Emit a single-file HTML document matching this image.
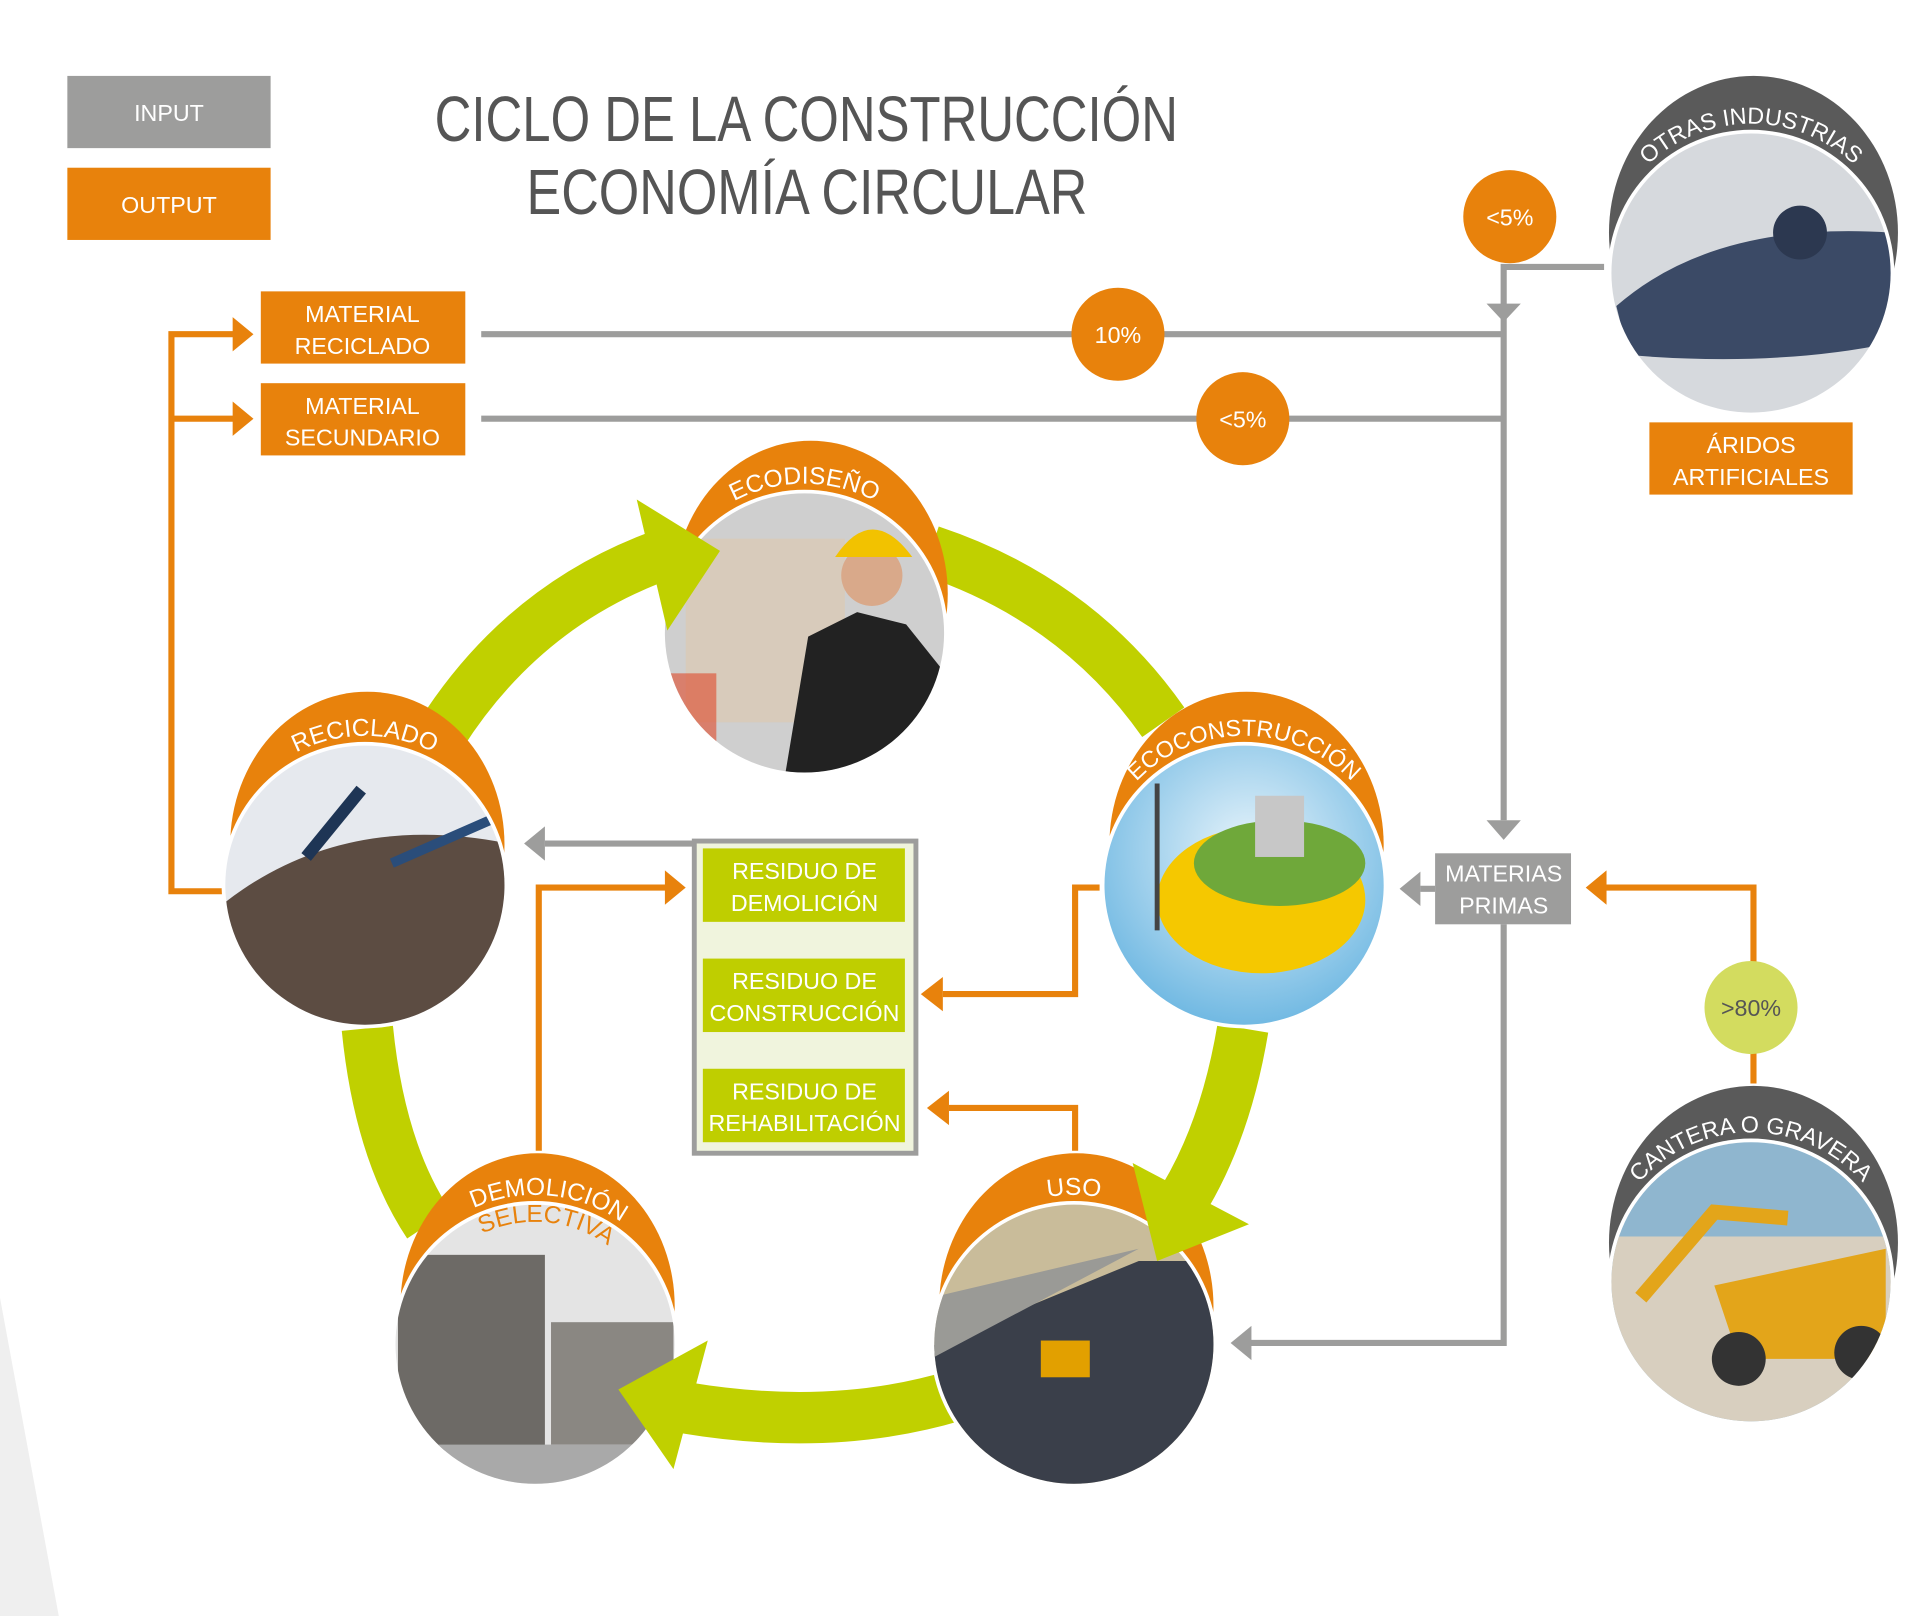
<!DOCTYPE html>
<html><head><meta charset="utf-8"><style>
html,body{margin:0;padding:0;background:#fff;}
svg{display:block;}
text{font-family:"Liberation Sans Narrow","Liberation Sans",sans-serif;}
</style></head><body>
<svg width="1920" height="1616" viewBox="0 0 1568 1320" preserveAspectRatio="none" xmlns="http://www.w3.org/2000/svg">
<defs>
<clipPath id="c1"><circle cx="657" cy="517" r="114"/></clipPath>
<clipPath id="c2"><circle cx="298" cy="723" r="114"/></clipPath>
<clipPath id="c3"><circle cx="1016" cy="723" r="114"/></clipPath>
<clipPath id="c4"><circle cx="437" cy="1098" r="114"/></clipPath>
<clipPath id="c5"><circle cx="877" cy="1098" r="114"/></clipPath>
<clipPath id="c6"><circle cx="1430" cy="223" r="114"/></clipPath>
<clipPath id="c7"><circle cx="1430" cy="1047" r="114"/></clipPath>
<path id="a1" d="M535,517 A122,122 0 0 1 779,517"/>
<path id="a2" d="M176,723 A122,122 0 0 1 420,723"/>
<path id="a3" d="M894,723 A122,122 0 0 1 1138,723"/>
<path id="a4" d="M315,1098 A122,122 0 0 1 559,1098"/>
<path id="a4b" d="M337,1098 A100,100 0 0 1 537,1098"/>
<path id="a5" d="M755,1098 A122,122 0 0 1 999,1098"/>
<path id="a6" d="M1308,223 A122,122 0 0 1 1552,223"/>
<path id="a7" d="M1308,1047 A122,122 0 0 1 1552,1047"/>
<radialGradient id="gsky" cx="50%" cy="40%" r="60%"><stop offset="0" stop-color="#e8f4fb"/><stop offset="1" stop-color="#6fb8e2"/></radialGradient>
</defs>
<rect width="1568" height="1320" fill="#fff"/>
<polygon points="0,1060 0,1320 48,1320" fill="#efefef"/>

<rect x="55" y="62" width="166" height="59" fill="#9d9d9c"/>
<text x="138" y="99" fill="#fff" font-size="19" text-anchor="middle">INPUT</text>
<rect x="55" y="137" width="166" height="59" fill="#e8820c"/>
<text x="138" y="174" fill="#fff" font-size="19" text-anchor="middle">OUTPUT</text>

<text x="355" y="115" fill="#555" font-size="52" textLength="607" lengthAdjust="spacingAndGlyphs">CICLO DE LA CONSTRUCCIÓN</text>
<text x="430" y="175" fill="#555" font-size="52" textLength="458" lengthAdjust="spacingAndGlyphs">ECONOMÍA CIRCULAR</text>

<g stroke="#9d9d9c" stroke-width="5" fill="none">
<line x1="393" y1="273" x2="1228" y2="273"/>
<line x1="393" y1="342" x2="1228" y2="342"/>
<polyline points="1310,218 1228,218 1228,670"/>
<polyline points="1228,755 1228,1097 1020,1097"/>
<line x1="1172" y1="726" x2="1160" y2="726"/>
<line x1="567" y1="689" x2="445" y2="689"/>
</g>
<g fill="#9d9d9c">
<polygon points="1214,248 1242,248 1228,263"/>
<polygon points="1214,670 1242,670 1228,686"/>
<polygon points="1160,712 1160,740 1143,726"/>
<polygon points="1022,1083 1022,1111 1005,1097"/>
<polygon points="445,675 445,703 428,689"/>
</g>

<g stroke="#e8820c" stroke-width="5" fill="none">
<polyline points="183,728 140,728 140,273 192,273"/>
<line x1="140" y1="342" x2="192" y2="342"/>
<polyline points="440,940 440,725 545,725"/>
<polyline points="898,725 878,725 878,812 770,812"/>
<polyline points="878,940 878,905 775,905"/>
<polyline points="1432,885 1432,725 1310,725"/>
</g>
<g fill="#e8820c">
<polygon points="190,259 190,287 207,273"/>
<polygon points="190,328 190,356 207,342"/>
<polygon points="543,711 543,739 560,725"/>
<polygon points="770,798 770,826 752,812"/>
<polygon points="775,891 775,919 757,905"/>
<polygon points="1312,711 1312,739 1295,725"/>
</g>

<rect x="213" y="238" width="167" height="59" fill="#e8820c"/>
<text x="296" y="263" fill="#fff" font-size="19" text-anchor="middle">MATERIAL</text>
<text x="296" y="289" fill="#fff" font-size="19" text-anchor="middle">RECICLADO</text>
<rect x="213" y="313" width="167" height="59" fill="#e8820c"/>
<text x="296" y="338" fill="#fff" font-size="19" text-anchor="middle">MATERIAL</text>
<text x="296" y="364" fill="#fff" font-size="19" text-anchor="middle">SECUNDARIO</text>

<circle cx="1233" cy="177" r="38" fill="#e8820c"/>
<text x="1233" y="184" fill="#fff" font-size="19" text-anchor="middle">&lt;5%</text>
<circle cx="913" cy="273" r="38" fill="#e8820c"/>
<text x="913" y="280" fill="#fff" font-size="19" text-anchor="middle">10%</text>
<circle cx="1015" cy="342" r="38" fill="#e8820c"/>
<text x="1015" y="349" fill="#fff" font-size="19" text-anchor="middle">&lt;5%</text>
<circle cx="1430" cy="823" r="38" fill="#d3dc5f"/>
<text x="1430" y="830" fill="#555" font-size="19" text-anchor="middle">&gt;80%</text>

<rect x="1347" y="345" width="166" height="59" fill="#e8820c"/>
<text x="1430" y="370" fill="#fff" font-size="19" text-anchor="middle">ÁRIDOS</text>
<text x="1430" y="396" fill="#fff" font-size="19" text-anchor="middle">ARTIFICIALES</text>

<rect x="1172" y="697" width="111" height="58" fill="#9d9d9c"/>
<text x="1228" y="720" fill="#fff" font-size="19" text-anchor="middle">MATERIAS</text>
<text x="1228" y="746" fill="#fff" font-size="19" text-anchor="middle">PRIMAS</text>

<rect x="567" y="687" width="181" height="255" fill="#f0f4dd" stroke="#9d9d9c" stroke-width="4"/>
<g fill="#bfce00"><rect x="574" y="693" width="165" height="60"/><rect x="574" y="783" width="165" height="60"/><rect x="574" y="873" width="165" height="60"/></g>
<g fill="#fff" font-size="19" text-anchor="middle">
<text x="657" y="718">RESIDUO DE</text><text x="657" y="744">DEMOLICIÓN</text>
<text x="657" y="808">RESIDUO DE</text><text x="657" y="834">CONSTRUCCIÓN</text>
<text x="657" y="898">RESIDUO DE</text><text x="657" y="924">REHABILITACIÓN</text>
</g>

<g stroke="#c0d000" stroke-width="42" fill="none">
<path d="M360,600 Q430,490 550,450"/>
<path d="M760,450 Q880,490 950,590"/>
<path d="M1015,840 Q1000,930 960,990"/>
<path d="M780,1140 Q680,1170 560,1150"/>
<path d="M300,840 Q310,940 350,1000"/>
</g>

<g>
<ellipse cx="662" cy="485" rx="112" ry="125" fill="#e8820c"/>
<circle cx="657" cy="517" r="117" fill="#fff"/>
<g clip-path="url(#c1)"><rect x="540" y="400" width="240" height="240" fill="#cfcfcf"/>
<rect x="560" y="440" width="130" height="150" fill="#e2c7a8" opacity=".5"/>
<path d="M640,640 L660,520 L700,500 L740,510 L780,560 L780,640 Z" fill="#222"/>
<circle cx="712" cy="470" r="25" fill="#d9a98a"/><path d="M682,455 Q712,410 745,455 Z" fill="#f2c200"/>
<rect x="545" y="550" width="40" height="60" fill="#e04a2a" opacity=".6"/></g>
<text font-size="20" fill="#fff"><textPath href="#a1" startOffset="50%" text-anchor="middle">ECODISEÑO</textPath></text>
</g>
<g>
<ellipse cx="300" cy="690" rx="112" ry="125" fill="#e8820c"/>
<circle cx="298" cy="723" r="117" fill="#fff"/>
<g clip-path="url(#c2)"><rect x="180" y="600" width="240" height="240" fill="#e6e9ee"/>
<path d="M180,740 Q280,660 420,690 L420,840 L180,840 Z" fill="#5c4c42"/>
<line x1="250" y1="700" x2="295" y2="645" stroke="#1e3555" stroke-width="10"/>
<line x1="320" y1="705" x2="400" y2="670" stroke="#2a4d7a" stroke-width="8"/></g>
<text font-size="20" fill="#fff"><textPath href="#a2" startOffset="50%" text-anchor="middle">RECICLADO</textPath></text>
</g>
<g>
<ellipse cx="1018" cy="690" rx="112" ry="125" fill="#e8820c"/>
<circle cx="1016" cy="723" r="117" fill="#fff"/>
<g clip-path="url(#c3)"><rect x="900" y="600" width="240" height="240" fill="url(#gsky)"/>
<ellipse cx="1030" cy="735" rx="85" ry="60" fill="#f5c800"/>
<ellipse cx="1045" cy="705" rx="70" ry="35" fill="#6fa83a"/>
<rect x="1025" y="650" width="40" height="50" fill="#c7c7c7"/>
<line x1="945" y1="640" x2="945" y2="760" stroke="#444" stroke-width="4"/></g>
<text font-size="19" fill="#fff"><textPath href="#a3" startOffset="50%" text-anchor="middle">ECOCONSTRUCCIÓN</textPath></text>
</g>
<g>
<ellipse cx="439" cy="1067" rx="112" ry="125" fill="#e8820c"/>
<circle cx="437" cy="1098" r="117" fill="#fff"/>
<g clip-path="url(#c4)"><rect x="320" y="980" width="240" height="240" fill="#e4e4e4"/>
<rect x="325" y="1025" width="120" height="160" fill="#6d6a66"/>
<rect x="450" y="1080" width="100" height="100" fill="#8a8782"/>
<rect x="320" y="1180" width="240" height="40" fill="#a9a9a9"/></g>
<text font-size="20" fill="#fff"><textPath href="#a4" startOffset="53%" text-anchor="middle">DEMOLICIÓN</textPath></text>
<text font-size="20" fill="#e8820c"><textPath href="#a4b" startOffset="53%" text-anchor="middle">SELECTIVA</textPath></text>
</g>
<g>
<ellipse cx="879" cy="1067" rx="112" ry="125" fill="#e8820c"/>
<circle cx="877" cy="1098" r="117" fill="#fff"/>
<g clip-path="url(#c5)"><rect x="760" y="980" width="240" height="240" fill="#c9bc9a"/>
<path d="M760,1100 L930,1030 L1000,1030 L1000,1220 L760,1220 Z" fill="#3a3f4a"/>
<path d="M760,1060 L930,1020 L760,1110 Z" fill="#9a9a96"/>
<rect x="850" y="1095" width="40" height="30" fill="#e2a000"/></g>
<text font-size="20" fill="#fff"><textPath href="#a5" startOffset="50%" text-anchor="middle">USO</textPath></text>
</g>
<g>
<ellipse cx="1432" cy="190" rx="118" ry="128" fill="#5a5a5a"/>
<circle cx="1430" cy="223" r="117" fill="#fff"/>
<g clip-path="url(#c6)"><rect x="1310" y="100" width="240" height="240" fill="#d6d9dd"/>
<path d="M1320,250 Q1400,180 1545,190 L1545,280 Q1450,300 1330,290 Z" fill="#3b4a66"/>
<circle cx="1470" cy="190" r="22" fill="#2c3850"/></g>
<text font-size="19" fill="#fff"><textPath href="#a6" startOffset="50%" text-anchor="middle">OTRAS INDUSTRIAS</textPath></text>
</g>
<g>
<ellipse cx="1432" cy="1015" rx="118" ry="128" fill="#5a5a5a"/>
<circle cx="1430" cy="1047" r="117" fill="#fff"/>
<g clip-path="url(#c7)"><rect x="1310" y="925" width="240" height="245" fill="#8fb6cf"/>
<rect x="1310" y="1010" width="240" height="160" fill="#d8cfbf"/>
<path d="M1400,1050 L1540,1020 L1540,1110 L1420,1110 Z" fill="#e3a51a"/>
<circle cx="1420" cy="1110" r="22" fill="#333"/><circle cx="1520" cy="1105" r="22" fill="#333"/>
<path d="M1340,1060 L1400,990 L1460,995" stroke="#e3a51a" stroke-width="12" fill="none"/></g>
<text font-size="19" fill="#fff"><textPath href="#a7" startOffset="50%" text-anchor="middle">CANTERA O GRAVERA</textPath></text>
</g>

<g fill="#c0d000">
<polygon points="520,408 588,450 545,515"/>
<polygon points="925,950 1020,1000 945,1030"/>
<polygon points="578,1095 505,1135 550,1200"/>
</g>
</svg>
</body></html>
